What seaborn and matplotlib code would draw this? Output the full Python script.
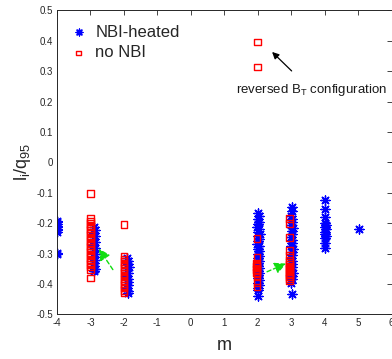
import matplotlib
matplotlib.use("Agg")
import matplotlib.pyplot as plt
import seaborn as sns
import pandas as pd

# ---- data: toroidal mode number m vs l_i/q95 ----
nbi_m = [
    -4.0, -4.0, -4.0, -4.0, -4.0, -4.0, -4.0, -4.0, -4.0, -4.0,
    -2.90, -2.87, -2.89, -2.86, -2.90, -2.87, -2.91, -2.86, -2.89, -2.87,
    -2.90, -2.86, -2.88, -2.90, -2.87, -2.89,
    -1.90, -1.87, -1.89, -1.86, -1.90, -1.88, -1.91, -1.87, -1.89, -1.88,
    -1.90, -1.87, -1.89,
    2.02, 2.03, 2.00, 2.05, 2.02, 1.99, 2.04, 2.02, 2.06, 2.00,
    2.03, 2.02, 1.99, 2.05, 2.02, 2.04, 2.00, 2.03, 2.02, 2.05,
    2.00, 2.02, 2.04, 2.01, 2.03, 2.02, 2.00, 2.04, 2.02, 2.03,
    2.02, 2.01, 2.02,
    3.02, 3.03, 3.01, 3.04, 3.02, 3.00, 3.05, 3.02, 3.03, 3.01,
    3.04, 3.02, 3.00, 3.05, 3.03, 3.02, 3.01, 3.04, 3.02, 3.03,
    3.00, 3.05, 3.02, 3.03, 3.01, 3.02,
    4.02, 4.02, 4.02, 4.01, 4.03, 4.01, 4.03, 4.02, 4.01, 4.03,
    4.02, 4.02, 4.02,
    5.04,
]
nbi_li_q95 = [
    -0.192, -0.198, -0.203, -0.208, -0.213, -0.218, -0.224, -0.230, -0.297, -0.302,
    -0.212, -0.222, -0.232, -0.242, -0.252, -0.262, -0.272, -0.282, -0.292, -0.302,
    -0.312, -0.322, -0.332, -0.342, -0.352, -0.358,
    -0.315, -0.325, -0.335, -0.345, -0.355, -0.365, -0.375, -0.385, -0.395, -0.405,
    -0.415, -0.422, -0.430,
    -0.168, -0.178, -0.188, -0.196, -0.204, -0.212, -0.220, -0.228, -0.236, -0.244,
    -0.252, -0.260, -0.268, -0.276, -0.284, -0.292, -0.300, -0.308, -0.316, -0.324,
    -0.332, -0.340, -0.348, -0.356, -0.364, -0.372, -0.380, -0.388, -0.396, -0.404,
    -0.412, -0.420, -0.440,
    -0.148, -0.160, -0.175, -0.185, -0.195, -0.205, -0.215, -0.225, -0.235, -0.245,
    -0.255, -0.265, -0.275, -0.285, -0.295, -0.305, -0.315, -0.325, -0.335, -0.345,
    -0.355, -0.365, -0.375, -0.385, -0.398, -0.432,
    -0.125, -0.155, -0.180, -0.200, -0.207, -0.214, -0.221, -0.228, -0.235, -0.242,
    -0.250, -0.267, -0.283,
    -0.221,
]

nonbi_m = [
    -3.0, -3.0, -3.0, -3.0, -3.0, -3.0, -3.0, -3.0, -3.0, -3.0,
    -3.0, -3.0, -3.0, -3.0, -3.0, -3.0, -3.0, -3.0, -3.0, -3.0,
    -3.0, -3.0, -3.0, -3.0,
    -2.0, -2.0, -2.0, -2.0, -2.0, -2.0, -2.0, -2.0, -2.0, -2.0,
    -2.0, -2.0, -2.0, -2.0, -2.0, -2.0, -2.0,
    2.0, 2.0,
    1.98, 1.98, 1.97, 1.98, 1.97, 1.98, 1.97, 1.98, 1.97, 1.98,
    1.98, 1.98, 1.98,
    2.95, 2.95, 2.95, 2.95, 2.95, 2.95, 2.95, 2.95, 2.95, 2.95,
    2.95, 2.95, 2.95, 2.95, 2.95, 2.95, 2.95,
]
nonbi_li_q95 = [
    -0.102, -0.185, -0.193, -0.201, -0.209, -0.217, -0.225, -0.233, -0.241, -0.249,
    -0.257, -0.265, -0.273, -0.281, -0.289, -0.297, -0.305, -0.313, -0.321, -0.329,
    -0.337, -0.345, -0.355, -0.380,
    -0.205, -0.310, -0.318, -0.326, -0.334, -0.342, -0.350, -0.358, -0.366, -0.374,
    -0.382, -0.390, -0.398, -0.406, -0.414, -0.422, -0.430,
    0.396, 0.313,
    -0.251, -0.313, -0.333, -0.338, -0.343, -0.348, -0.353, -0.358, -0.363, -0.368,
    -0.375, -0.395, -0.410,
    -0.185, -0.202, -0.247, -0.290, -0.307, -0.323, -0.329, -0.335, -0.341, -0.347,
    -0.353, -0.359, -0.365, -0.371, -0.377, -0.383, -0.390,
]

x_ticks = [-4, -3, -2, -1, 0, 1, 2, 3, 4, 5, 6]
x_ticklabels = ["-4", "-3", "-2", "-1", "0", "1", "2", "3", "4", "5", "6"]
y_ticks = [-0.5, -0.4, -0.3, -0.2, -0.1, 0.0, 0.1, 0.2, 0.3, 0.4, 0.5]
y_ticklabels = ["-0.5", "-0.4", "-0.3", "-0.2", "-0.1", "0", "0.1", "0.2", "0.3", "0.4", "0.5"]

nbi = pd.DataFrame({"m": nbi_m, "li_q95": nbi_li_q95})
nonbi = pd.DataFrame({"m": nonbi_m, "li_q95": nonbi_li_q95})

# ---- styling ----
sns.set_theme(style="white")
plt.rcParams["font.family"] = ["Liberation Sans", "DejaVu Sans"]
plt.rcParams["mathtext.fontset"] = "custom"
plt.rcParams["mathtext.rm"] = "Liberation Sans"
plt.rcParams["mathtext.it"] = "Liberation Sans"
plt.rcParams["axes.unicode_minus"] = False

axis_gray = "#262626"
fig = plt.figure(figsize=(3.92, 3.59), dpi=100)
ax = fig.add_axes([57 / 392, 1 - 314.3 / 359, (391.5 - 57) / 392, 304 / 359])

sns.scatterplot(data=nbi, x="m", y="li_q95", ax=ax, marker=(8, 2, 0),
                color="#0000ff", s=42, linewidth=1.0, label="NBI-heated", zorder=2)
sns.scatterplot(data=nonbi, x="m", y="li_q95", ax=ax, marker="s",
                color="#ff0000", facecolor="none", edgecolor="#ff0000",
                s=22, linewidth=1.0, label="no NBI", zorder=3)

ax.set_xlim(-4, 6)
ax.set_ylim(-0.5, 0.5)
ax.set_xticks(x_ticks)
ax.set_xticklabels(x_ticklabels)
ax.set_yticks(y_ticks)
ax.set_yticklabels(y_ticklabels)
ax.tick_params(direction="in", length=3.5, width=0.6, colors=axis_gray,
               labelsize=7, top=True, right=True, pad=3)
ax.tick_params(axis="x", labeltop=False)
ax.tick_params(axis="y", labelright=False)
for side in ["left", "right", "top", "bottom"]:
    ax.spines[side].set_visible(True)
    ax.spines[side].set_color(axis_gray)
    ax.spines[side].set_linewidth(0.7)

ax.set_xlabel("m", fontsize=13, color=axis_gray, labelpad=6)
ax.set_ylabel(r"l$_i$/q$_{95}$", fontsize=13, color=axis_gray, labelpad=2)

leg = ax.legend(loc="upper left", bbox_to_anchor=(0.02, 0.975), frameon=False,
                fontsize=12, handlelength=1.0, handletextpad=0.5,
                labelspacing=0.35, borderaxespad=0, markerscale=0.75)

# annotation for the reversed-field shots
ax.annotate("reversed B$_T$ configuration", xy=(2.43, 0.363), xytext=(3.6, 0.238),
            fontsize=9.5, color="#1a1a1a", ha="center", va="center",
            arrowprops=dict(arrowstyle="-|>", color="black", lw=0.9,
                            mutation_scale=10, shrinkA=8, shrinkB=0))

# dashed green arrows marking the mode transitions
for tail, head in [((-2.33, -0.353), (-2.75, -0.284)), ((2.28, -0.36), (2.85, -0.333))]:
    ax.annotate("", xy=head, xytext=tail,
                arrowprops=dict(arrowstyle="-|>", color="#11dd11", lw=1.0,
                                linestyle=(0, (3, 2)), mutation_scale=17,
                                shrinkA=0, shrinkB=0))

fig.savefig("out.png", dpi=100)
